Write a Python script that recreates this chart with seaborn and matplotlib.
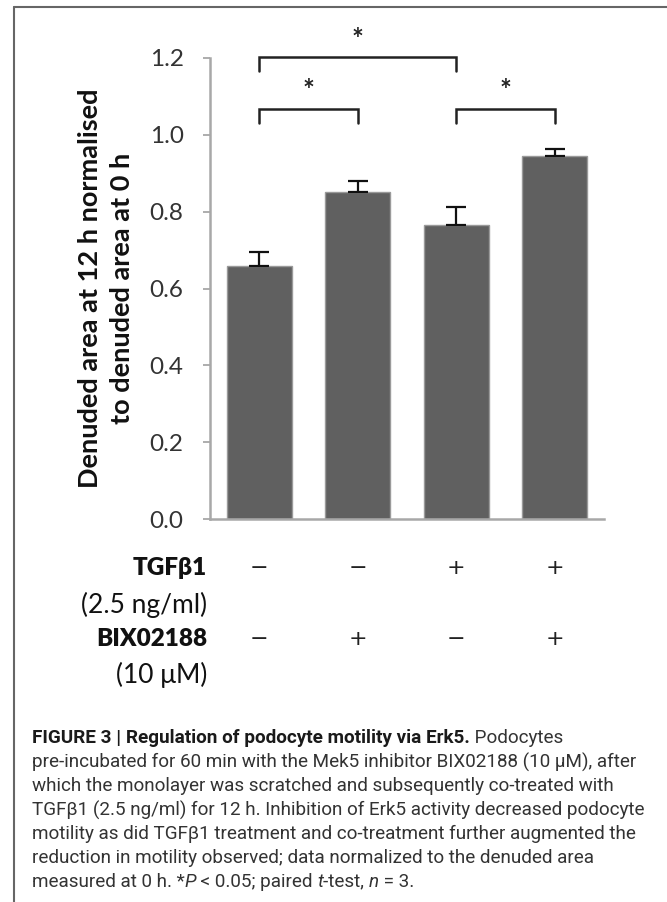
import numpy as np
import matplotlib
matplotlib.use("Agg")
import matplotlib.pyplot as plt
import matplotlib.transforms as mtransforms
from matplotlib.lines import Line2D
import pandas as pd
import seaborn as sns

# data
conditions = ["Control", "BIX02188", "TGFb1", "TGFb1 + BIX02188"]
denuded_ratio = [0.658, 0.851, 0.764, 0.945]
sem = [0.036, 0.029, 0.049, 0.019]
tgf_row = ["−", "−", "+", "+"]
bix_row = ["−", "+", "−", "+"]
# significance brackets: (left bar, right bar, bracket height)
sig_pairs = [(0, 1, 1.068), (2, 3, 1.068), (0, 2, 1.202)]
yticks = [0.0, 0.2, 0.4, 0.6, 0.8, 1.0, 1.2]

caption_lines = [
    [("FIGURE 3 | Regulation of podocyte motility via Erk5.", "bold", "normal"),
     (" Podocytes", "normal", "normal")],
    [("pre-incubated for 60 min with the Mek5 inhibitor BIX02188 (10 μM), after", "normal", "normal")],
    [("which the monolayer was scratched and subsequently co-treated with", "normal", "normal")],
    [("TGFβ1 (2.5 ng/ml) for 12 h. Inhibition of Erk5 activity decreased podocyte", "normal", "normal")],
    [("motility as did TGFβ1 treatment and co-treatment further augmented the", "normal", "normal")],
    [("reduction in motility observed; data normalized to the denuded area", "normal", "normal")],
    [("measured at 0 h. *", "normal", "normal"), ("P", "normal", "italic"),
     (" < 0.05; paired ", "normal", "normal"), ("t", "normal", "italic"),
     ("-test, ", "normal", "normal"), ("n", "normal", "italic"),
     (" = 3.", "normal", "normal")],
]

sns.set_style("white")
plt.rcParams["font.family"] = ["Lato", "DejaVu Sans"]

W, H = 667, 902
fig = plt.figure(figsize=(W / 100, H / 100), dpi=100)

def fx(px):
    return px / W

def fy(py):
    return 1 - py / H

ax = fig.add_axes([fx(210), fy(519), fx(604) - fx(210), fy(58) - fy(519)])

df = pd.DataFrame({"condition": conditions, "ratio": denuded_ratio})
sns.barplot(data=df, x="condition", y="ratio", color="#606060", saturation=1,
            width=0.66, edgecolor="#9a9a9a", linewidth=1, errorbar=None, ax=ax)
ax.errorbar(np.arange(len(conditions)), denuded_ratio,
            yerr=[np.zeros(len(sem)), sem], fmt="none", ecolor="#111111",
            elinewidth=1.6, capsize=7, capthick=1.6, zorder=3)

ax.set_xlim(-0.5, len(conditions) - 0.5)
ax.set_ylim(0, 1.2)
ax.set_yticks(yticks)
ax.set_yticklabels([f"{v:.1f}" for v in yticks])
ax.set_xticks([])
ax.set_xlabel("")
ax.tick_params(axis="y", direction="out", length=5, width=1.2, color="#a0a0a0",
               pad=14, labelsize=17.5, labelcolor="#333333", left=True)
for side in ["top", "right"]:
    ax.spines[side].set_visible(False)
for side in ["left", "bottom"]:
    ax.spines[side].set_color("#a8a8a8")
    ax.spines[side].set_linewidth(1.8)

ax.set_ylabel("Denuded area at 12 h normalised\nto denuded area at 0 h",
              fontsize=19.5, fontweight="bold", color="#111111", linespacing=1.4,
              va="center")
ax.yaxis.set_label_coords((106.5 - 210) / 394, 0.5)

# significance brackets and stars
drop = 0.037
for a, b, h in sig_pairs:
    ax.plot([a, a, b, b], [h - drop, h, h, h - drop], color="#222222",
            lw=1.8, clip_on=False, solid_joinstyle="miter")
    ax.text((a + b) / 2, h + 0.045, "*", ha="center", va="center",
            fontsize=20, fontweight="bold", color="#222222", clip_on=False)

# treatment table under the bars
trans = mtransforms.blended_transform_factory(ax.transData, fig.transFigure)
for i, (t, b) in enumerate(zip(tgf_row, bix_row)):
    ax.text(i, fy(568), t, transform=trans, ha="center", va="center",
            fontsize=16, family="DejaVu Sans", color="#222222")
    ax.text(i, fy(639), b, transform=trans, ha="center", va="center",
            fontsize=16, family="DejaVu Sans", color="#222222")

row_labels = [("TGFβ1", "heavy", 17.5, 568), ("(2.5 ng/ml)", "normal", 19, 605),
              ("BIX02188", "heavy", 17.5, 639), ("(10 μM)", "normal", 19, 675)]
for txt, wt, fs, ypx in row_labels:
    fig.text(fx(207), fy(ypx), txt, ha="right", va="center", fontsize=fs,
             fontweight=wt, color="#111111")

# frame around the figure panel
fig.add_artist(Line2D([fx(14), 1.0], [fy(7), fy(7)], color="#666666", lw=1.5))
fig.add_artist(Line2D([fx(14), fx(14)], [fy(7), 0.0], color="#666666", lw=1.5))

# caption: size fitted so the longest line spans the reference width
renderer = fig.canvas.get_renderer()
cap_font = ["Roboto", "DejaVu Sans"]
probe = fig.text(0, 0, caption_lines[1][0][0], fontsize=12, family=cap_font)
cap_size = 12 * 605 / probe.get_window_extent(renderer=renderer).width
probe.remove()
for li, runs in enumerate(caption_lines):
    x = fx(32)
    y = fy(738 + 24 * li)
    for s, wt, st in runs:
        t = fig.text(x, y, s, ha="left", va="center", fontsize=cap_size,
                     fontweight=wt, fontstyle=st, family=cap_font,
                     color="#1a1a1a" if wt == "bold" else "#333333")
        x += t.get_window_extent(renderer=renderer).width / W

fig.savefig("out.png", dpi=100)
